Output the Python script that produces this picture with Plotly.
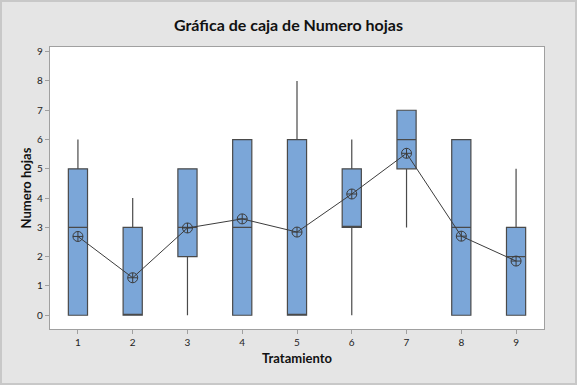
import plotly.graph_objects as go

tratamiento = [1, 2, 3, 4, 5, 6, 7, 8, 9]
minimo = [0, 0, 0, 0, 0, 0, 3, 0, 0]
q1 = [0, 0, 2, 0, 0, 3, 5, 0, 0]
mediana = [3, 0, 3, 3, 0, 3, 6, 3, 2]
q3 = [5, 3, 5, 6, 6, 5, 7, 6, 3]
maximo = [6, 4, 5, 6, 8, 6, 7, 6, 5]
media = [2.69, 1.28, 2.98, 3.29, 2.84, 4.14, 5.53, 2.70, 1.85]
y_ticks = [0, 1, 2, 3, 4, 5, 6, 7, 8, 9]

W, H = 577, 385
L, R, T, B = 50, 33, 47, 56

fig = go.Figure()
fig.add_trace(go.Box(
    x=tratamiento, q1=q1, median=mediana, q3=q3,
    lowerfence=minimo, upperfence=maximo,
    width=0.35, whiskerwidth=0,
    fillcolor="#7BA6D8",
    line=dict(color="#4A4A4A", width=1.2),
    hoverinfo="skip", showlegend=False,
))
fig.add_trace(go.Scatter(
    x=tratamiento, y=media, mode="lines+markers",
    line=dict(color="#3C3C3C", width=1),
    marker=dict(symbol="circle-cross-open", size=10,
                color="#3C3C3C", line=dict(width=1)),
    showlegend=False,
))

pw = W - L - R
ph = H - T - B
fig.add_shape(type="rect", xref="paper", yref="paper",
              x0=-(L - 1) / pw, x1=1 + (R - 1) / pw,
              y0=-(B - 1) / ph, y1=1 + (T - 1) / ph,
              line=dict(color="#C8C8C8", width=2), layer="below")

axis_common = dict(showgrid=False, zeroline=False, automargin=False,
                   showline=True, linecolor="#A0A0A0", linewidth=1.2, mirror=True,
                   ticks="outside", ticklen=4, tickcolor="#A0A0A0",
                   tickfont=dict(size=10, color="#222222"))

fig.update_layout(
    width=W, height=H,
    margin=dict(l=L, r=R, t=T, b=B, autoexpand=False),
    paper_bgcolor="#E5E5E5", plot_bgcolor="white",
    font=dict(family="Lato, Open Sans, sans-serif", color="#111111"),
    title=dict(text="<b>Gráfica de caja de Numero hojas</b>",
               x=0.5, xanchor="center", y=1 - 25 / H, yanchor="middle",
               font=dict(size=16, color="#111111")),
    xaxis=dict(range=[0.49, 9.51], tickvals=tratamiento,
               ticktext=[str(t) for t in tratamiento],
               title=dict(text="<b>Tratamiento</b>", font=dict(size=13), standoff=6),
               **axis_common),
    yaxis=dict(range=[-0.47, 9.16], tickvals=y_ticks,
               title=dict(text="<b>Numero hojas</b>", font=dict(size=13), standoff=2),
               **axis_common),
)

fig.write_html("out.html", config={"displayModeBar": False},
               post_script="document.body.style.margin='0';document.body.style.overflow='hidden';")
